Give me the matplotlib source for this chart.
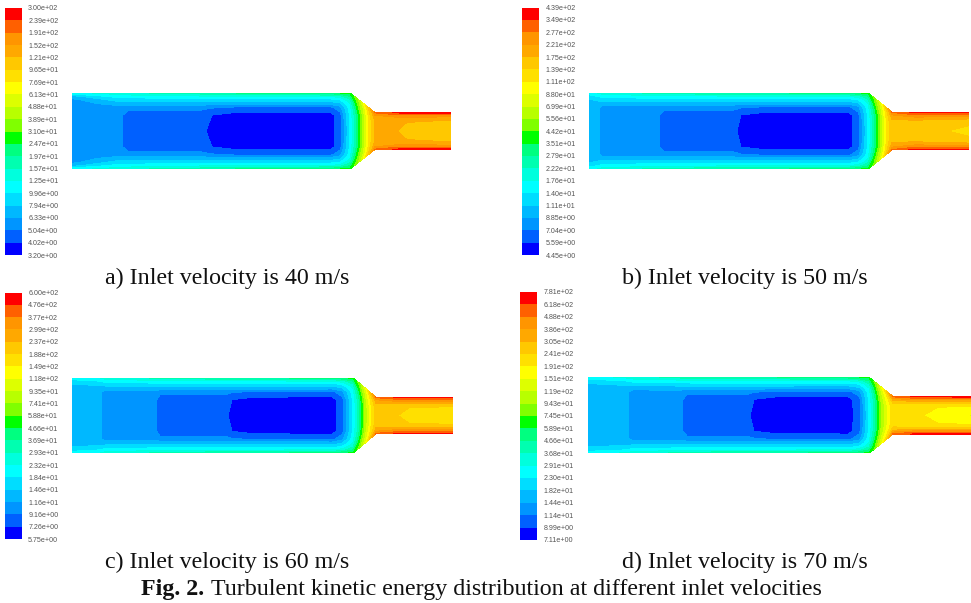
import matplotlib
matplotlib.use('Agg')
import matplotlib.pyplot as plt
import numpy as np
from matplotlib.colors import ListedColormap, BoundaryNorm

W, H = 971, 603

# fluent rainbow, lowest band first
band_colors = ['#0000ff', '#0060ff', '#0095ff', '#00b8ff', '#00ddff',
               '#00ffff', '#00ffdd', '#00ffb0', '#00ff80', '#00ff00',
               '#80ff00', '#b8ff00', '#ddff00', '#ffff00', '#ffe000',
               '#ffc800', '#ffa800', '#ff9500', '#ff6000', '#ff0000']

labels_a = ['3.20e+00', '4.02e+00', '5.04e+00', '6.33e+00', '7.94e+00', '9.96e+00', '1.25e+01',
            '1.57e+01', '1.97e+01', '2.47e+01', '3.10e+01', '3.89e+01', '4.88e+01', '6.13e+01',
            '7.69e+01', '9.65e+01', '1.21e+02', '1.52e+02', '1.91e+02', '2.39e+02', '3.00e+02']
labels_b = ['4.45e+00', '5.59e+00', '7.04e+00', '8.85e+00', '1.11e+01', '1.40e+01', '1.76e+01',
            '2.22e+01', '2.79e+01', '3.51e+01', '4.42e+01', '5.56e+01', '6.99e+01', '8.80e+01',
            '1.11e+02', '1.39e+02', '1.75e+02', '2.21e+02', '2.77e+02', '3.49e+02', '4.39e+02']
labels_c = ['5.75e+00', '7.26e+00', '9.16e+00', '1.16e+01', '1.46e+01', '1.84e+01', '2.32e+01',
            '2.93e+01', '3.69e+01', '4.66e+01', '5.88e+01', '7.41e+01', '9.35e+01', '1.18e+02',
            '1.49e+02', '1.88e+02', '2.37e+02', '2.99e+02', '3.77e+02', '4.76e+02', '6.00e+02']
labels_d = ['7.11e+00', '8.99e+00', '1.14e+01', '1.44e+01', '1.82e+01', '2.30e+01', '2.91e+01',
            '3.68e+01', '4.66e+01', '5.89e+01', '7.45e+01', '9.43e+01', '1.19e+02', '1.51e+02',
            '1.91e+02', '2.41e+02', '3.05e+02', '3.86e+02', '4.88e+02', '6.18e+02', '7.81e+02']

captions = ['a) Inlet velocity is 40 m/s', 'b) Inlet velocity is 50 m/s',
            'c) Inlet velocity is 60 m/s', 'd) Inlet velocity is 70 m/s']

# fraction of the local half height, centreline to wall
eta = [0, .42, .62, .72, .82, .91, 1]

# duct outline: inlet, shoulder, throat, exit / half height at inlet and throat
outline_a = [72, 350, 375, 451]
outline_b = [589, 868, 892, 969]
outline_c = [72, 353, 376, 453]
outline_d = [588, 869, 893, 971]
half_a, half_b, half_c, half_d = [38, 18.5], [38.2, 19], [37.8, 18.3], [38, 18.8]
centre_a, centre_b, centre_c, centre_d = 131, 131, 415.5, 415.3

# band position, one row per station along the duct
x_a = [72, 118, 128, 200, 212, 235, 330, 340, 350, 356, 363, 370, 375, 398, 420, 451]
k_a = [[2.5, 2.5, 2.5, 2.5, 2.7, 3.6, 5.6],
       [2.5, 2.5, 2.6, 3.4, 4.4, 5.4, 6.5],
       [1.5, 1.5, 2.3, 3.4, 4.4, 5.4, 6.8],
       [1.5, 1.5, 2.3, 3.5, 4.6, 5.8, 7.5],
       [0.5, 1.0, 2.1, 3.4, 4.6, 5.9, 7.8],
       [0.5, 0.6, 1.8, 3.4, 4.6, 5.9, 8.0],
       [0.5, 0.6, 1.7, 3.3, 4.6, 6.0, 8.5],
       [1.5, 1.6, 2.6, 3.8, 5.0, 6.5, 9.0],
       [5.0, 5.2, 5.6, 6.0, 6.8, 8.0, 9.2],
       [7.5, 7.7, 8.3, 8.8, 9.3, 9.8, 10.2],
       [11.0, 11.1, 11.5, 11.8, 12.0, 12.3, 12.8],
       [14.5, 14.6, 14.8, 15.0, 15.2, 15.5, 16.0],
       [16.2, 16.2, 16.3, 16.5, 16.8, 17.4, 18.2],
       [16.0, 16.1, 16.4, 16.9, 17.5, 18.3, 19.3],
       [15.6, 15.8, 16.2, 16.8, 17.5, 18.4, 19.4],
       [15.5, 15.7, 16.1, 16.7, 17.4, 18.4, 19.5]]

x_b = [589, 597, 603, 656, 664, 733, 741, 764, 848, 858, 868, 874, 881, 887, 892, 915, 943, 969]
k_b = [[3.5, 3.5, 3.5, 3.6, 3.9, 4.6, 5.6],
       [3.4, 3.4, 3.4, 3.6, 4.2, 5.0, 6.0],
       [2.5, 2.5, 2.6, 3.4, 4.4, 5.4, 6.5],
       [2.5, 2.5, 2.7, 3.5, 4.5, 5.7, 7.3],
       [1.5, 1.5, 2.3, 3.5, 4.6, 5.8, 7.5],
       [1.5, 1.5, 2.3, 3.5, 4.6, 5.9, 7.8],
       [0.5, 1.0, 2.1, 3.4, 4.6, 5.9, 8.0],
       [0.5, 0.6, 1.8, 3.4, 4.6, 5.9, 8.0],
       [0.5, 0.6, 1.7, 3.3, 4.6, 6.0, 8.5],
       [1.5, 1.6, 2.6, 3.8, 5.0, 6.5, 9.0],
       [5.0, 5.2, 5.6, 6.0, 6.8, 8.0, 9.2],
       [7.5, 7.7, 8.3, 8.8, 9.3, 9.8, 10.2],
       [11.0, 11.1, 11.5, 11.8, 12.0, 12.3, 12.8],
       [14.2, 14.3, 14.6, 14.8, 15.0, 15.3, 15.8],
       [15.8, 15.8, 16.0, 16.3, 16.8, 17.4, 18.2],
       [15.4, 15.5, 16.2, 16.9, 17.7, 18.5, 19.3],
       [15.1, 15.3, 16.0, 16.8, 17.6, 18.5, 19.4],
       [14.6, 15.2, 15.9, 16.7, 17.5, 18.5, 19.4]]

x_c = [72, 99, 105, 154, 160, 224, 232, 255, 332, 342, 353, 359, 365, 371, 376, 398, 420, 453]
k_c = [[3.5, 3.5, 3.5, 3.6, 3.9, 4.6, 5.6],
       [3.4, 3.4, 3.4, 3.6, 4.2, 5.0, 6.0],
       [2.5, 2.5, 2.6, 3.4, 4.4, 5.4, 6.5],
       [2.5, 2.5, 2.7, 3.5, 4.5, 5.7, 7.2],
       [1.5, 1.5, 2.3, 3.5, 4.6, 5.8, 7.5],
       [1.5, 1.5, 2.3, 3.5, 4.6, 5.9, 7.8],
       [0.5, 1.0, 2.1, 3.4, 4.6, 5.9, 8.0],
       [0.5, 0.6, 1.8, 3.4, 4.6, 5.9, 8.0],
       [0.5, 0.6, 1.7, 3.3, 4.6, 6.0, 8.5],
       [1.5, 1.6, 2.6, 3.8, 5.0, 6.5, 9.0],
       [5.0, 5.2, 5.6, 6.0, 6.8, 8.0, 9.2],
       [7.5, 7.7, 8.3, 8.8, 9.3, 9.8, 10.2],
       [11.0, 11.1, 11.5, 11.8, 12.0, 12.3, 12.8],
       [13.8, 13.9, 14.2, 14.5, 14.8, 15.2, 15.8],
       [15.6, 15.6, 15.8, 16.2, 16.7, 17.4, 18.2],
       [15.0, 15.1, 15.9, 16.6, 17.4, 18.3, 19.2],
       [14.6, 14.9, 15.8, 16.6, 17.4, 18.4, 19.3],
       [14.3, 14.7, 15.7, 16.5, 17.4, 18.4, 19.3]]

x_d = [588, 625, 633, 679, 687, 746, 754, 777, 848, 859, 869, 875, 881, 888, 893, 915, 953, 971]
k_d = [[3.5, 3.5, 3.5, 3.6, 3.9, 4.6, 5.6],
       [3.4, 3.4, 3.4, 3.6, 4.2, 5.0, 6.2],
       [2.5, 2.5, 2.6, 3.4, 4.4, 5.4, 6.6],
       [2.5, 2.5, 2.7, 3.5, 4.5, 5.7, 7.3],
       [1.5, 1.5, 2.3, 3.5, 4.6, 5.8, 7.6],
       [1.5, 1.5, 2.3, 3.5, 4.6, 5.9, 7.9],
       [0.5, 1.0, 2.1, 3.4, 4.6, 5.9, 8.0],
       [0.5, 0.6, 1.8, 3.4, 4.6, 5.9, 8.0],
       [0.5, 0.6, 1.7, 3.3, 4.6, 6.0, 8.5],
       [1.5, 1.6, 2.6, 3.8, 5.0, 6.5, 9.0],
       [5.0, 5.2, 5.6, 6.0, 6.8, 8.0, 9.2],
       [7.5, 7.7, 8.3, 8.8, 9.3, 9.8, 10.2],
       [10.8, 10.9, 11.3, 11.6, 11.9, 12.2, 12.8],
       [13.2, 13.3, 13.7, 14.0, 14.4, 14.9, 15.6],
       [14.6, 14.7, 15.0, 15.5, 16.2, 17.2, 18.2],
       [14.2, 14.3, 14.9, 15.8, 16.9, 18.1, 19.2],
       [13.3, 13.8, 14.9, 15.8, 17.0, 18.3, 19.3],
       [12.9, 13.6, 14.8, 15.8, 17.0, 18.3, 19.4]]

# position of each panel: colourbar box, caption
bar_a = [4.5, 8, 21.5, 255]
bar_b = [521.5, 7.5, 538.7, 255]
bar_c = [4.5, 292.5, 21.5, 539]
bar_d = [519.7, 292, 537, 540]
cap_a, cap_b, cap_c, cap_d = (105, 278), (622, 278), (105, 562), (622, 562)


def px_axes(fig, x0, y0, x1, y1):
    return fig.add_axes([x0 / W, 1 - y1 / H, (x1 - x0) / W, (y1 - y0) / H])


def draw_bar(fig, box, labels):
    ax = px_axes(fig, *box)
    cmap = ListedColormap(band_colors)
    norm = BoundaryNorm(np.arange(21), 20)
    ax.pcolormesh([0, 1], np.arange(21), np.arange(20).reshape(-1, 1), cmap=cmap, norm=norm)
    ax.set_xticks([])
    ax.yaxis.tick_right()
    ax.set_yticks(np.arange(21))
    ax.set_yticklabels(labels, fontsize=5.1, color='#555555', family='Liberation Sans')
    ax.tick_params(axis='y', length=0, pad=4.8)
    for s in ax.spines.values():
        s.set_visible(False)


def draw_duct(fig, outline, half, centre, xs, table):
    top = centre - half[0]
    bottom = centre + half[0]
    ax = px_axes(fig, outline[0], top, outline[3], bottom)
    ax.set_xlim(outline[0], outline[3])
    ax.set_ylim(half[0], -half[0])
    ax.axis('off')
    xs = np.array(xs, dtype=float)
    table = np.array(table)
    wall = np.interp(xs, outline, [half[0], half[0], half[1], half[1]])
    # mirror the half table about the centreline
    e = np.array(eta)
    e_full = np.concatenate((-e[:0:-1], e))
    k_full = np.hstack((table[:, :0:-1], table))
    X = np.repeat(xs[:, None], len(e_full), axis=1)
    Y = wall[:, None] * e_full[None, :]
    ax.contourf(X, Y, k_full, levels=np.arange(21), colors=band_colors, antialiased=False)


fig = plt.figure(figsize=(W / 100, H / 100), dpi=100, facecolor='white')

draw_bar(fig, bar_a, labels_a)
draw_bar(fig, bar_b, labels_b)
draw_bar(fig, bar_c, labels_c)
draw_bar(fig, bar_d, labels_d)

draw_duct(fig, outline_a, half_a, centre_a, x_a, k_a)
draw_duct(fig, outline_b, half_b, centre_b, x_b, k_b)
draw_duct(fig, outline_c, half_c, centre_c, x_c, k_c)
draw_duct(fig, outline_d, half_d, centre_d, x_d, k_d)

for pos, cap in zip((cap_a, cap_b, cap_c, cap_d), captions):
    fig.text(pos[0] / W, 1 - pos[1] / H, cap, fontsize=17.3, family='Liberation Serif',
             ha='left', va='center', color='#111111')

fig.text(141 / W, 1 - 590 / H, 'Fig. 2.', fontsize=17.3, family='Liberation Serif', weight='bold',
         ha='left', va='center', color='#111111')
fig.text(211 / W, 1 - 590 / H, 'Turbulent kinetic energy distribution at different inlet velocities',
         fontsize=17.3, family='Liberation Serif', ha='left', va='center', color='#111111')

fig.savefig('out.png', dpi=100)
